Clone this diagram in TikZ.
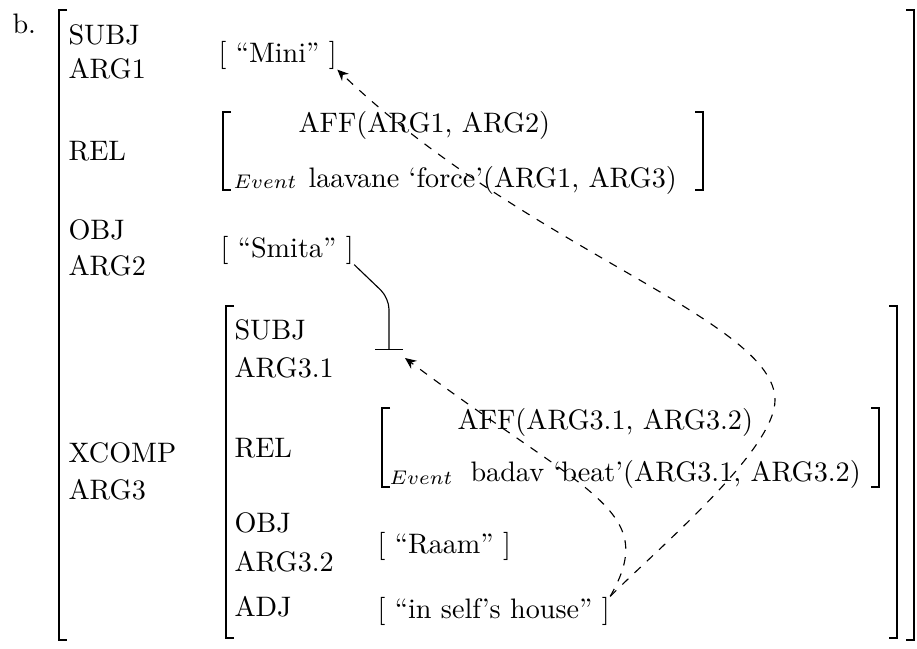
\documentclass[tikz,border=0pt]{standalone}
\usetikzlibrary{arrows.meta}

\begin{document}
\begin{tikzpicture}[x=0.355pt, y=-0.355pt,
  feat/.style={anchor=base west, inner sep=0pt},
  klammer/.style={line width=0.6pt},
  bezug/.style={dashed, -{Stealth[length=4pt,width=3.5pt]}}]
\useasboundingbox (0,0) rectangle (917,648);

% Beispielnummer
\node[feat] (nr) at (12,33) {b.};

% Aeussere Matrix
\draw[klammer] (67,10) -- (59,10) -- (59,640) -- (67,640);
\draw[klammer] (906,10) -- (914,10) -- (914,640) -- (906,640);

% SUBJ / ARG1
\node[feat] (subjA) at (68,44) {SUBJ};
\node[feat] (arg1) at (68,78) {ARG1};
\node[feat] (mini) at (218,62) {[ ``Mini'' ]};

% REL
\node[feat] (rel) at (68,160) {REL};
\draw[klammer] (231,112) -- (223,112) -- (223,190) -- (231,190);
\draw[klammer] (695,112) -- (703,112) -- (703,190) -- (695,190);
\node[feat] (aff1) at (298,132) {AFF(ARG1, ARG2)};
\node[feat, font=\scriptsize] (event1) at (233,188) {$Event$};
\node[feat] (force) at (308,187) {laavane `force'(ARG1, ARG3)};

% OBJ / ARG2
\node[feat] (obj) at (68,239) {OBJ};
\node[feat] (arg2) at (68,275) {ARG2};
\node[feat] (smita) at (220,257) {[ ``Smita'' ]};

% XCOMP / ARG3
\node[feat] (xcomp) at (68,462) {XCOMP};
\node[feat] (arg3) at (68,499) {ARG3};
\draw[klammer] (234,306) -- (226,306) -- (226,638) -- (234,638);
\draw[klammer] (889,306) -- (897,306) -- (897,638) -- (889,638);

% Eingebettete Matrix
\node[feat] (subjB) at (234,339) {SUBJ};
\node[feat] (arg31) at (234,377) {ARG3.1};
\coordinate (slot31) at (389,350);
\coordinate (slot31ziel) at (405,358);

\node[feat] (relB) at (234,457) {REL};
\draw[klammer] (390,408) -- (382,408) -- (382,487) -- (390,487);
\draw[klammer] (871,408) -- (879,408) -- (879,487) -- (871,487);
\node[feat] (aff2) at (457,429) {AFF(ARG3.1, ARG3.2)};
\node[feat, font=\scriptsize] (event2) at (389,484) {$Event$};
\node[feat] (beat) at (470,481) {badav `beat'(ARG3.1, ARG3.2)};

\node[feat] (objB) at (234,532) {OBJ};
\node[feat] (arg32) at (234,571) {ARG3.2};
\node[feat] (raam) at (377,553) {[ ``Raam'' ]};

\node[feat] (adj) at (234,616) {ADJ};
\node[feat] (house) at (377,618) {[ ``in self's house'' ]};

% Kontrolle
\draw[-{Bar[width=10pt]}, rounded corners=4pt] (smita.south east) -- (389,298) -- (slot31);

% Bindung
\coordinate (bogen) at (775,400);
\draw[bezug] (house.north east) .. controls +(50,-87) and +(184,138) .. (slot31ziel);
\draw[bezug] (house.north east) .. controls +(49,-49) and +(0,50) .. (bogen)
  .. controls +(0,-80) and +(187,179) .. (mini.south east);
\end{tikzpicture}
\end{document}
